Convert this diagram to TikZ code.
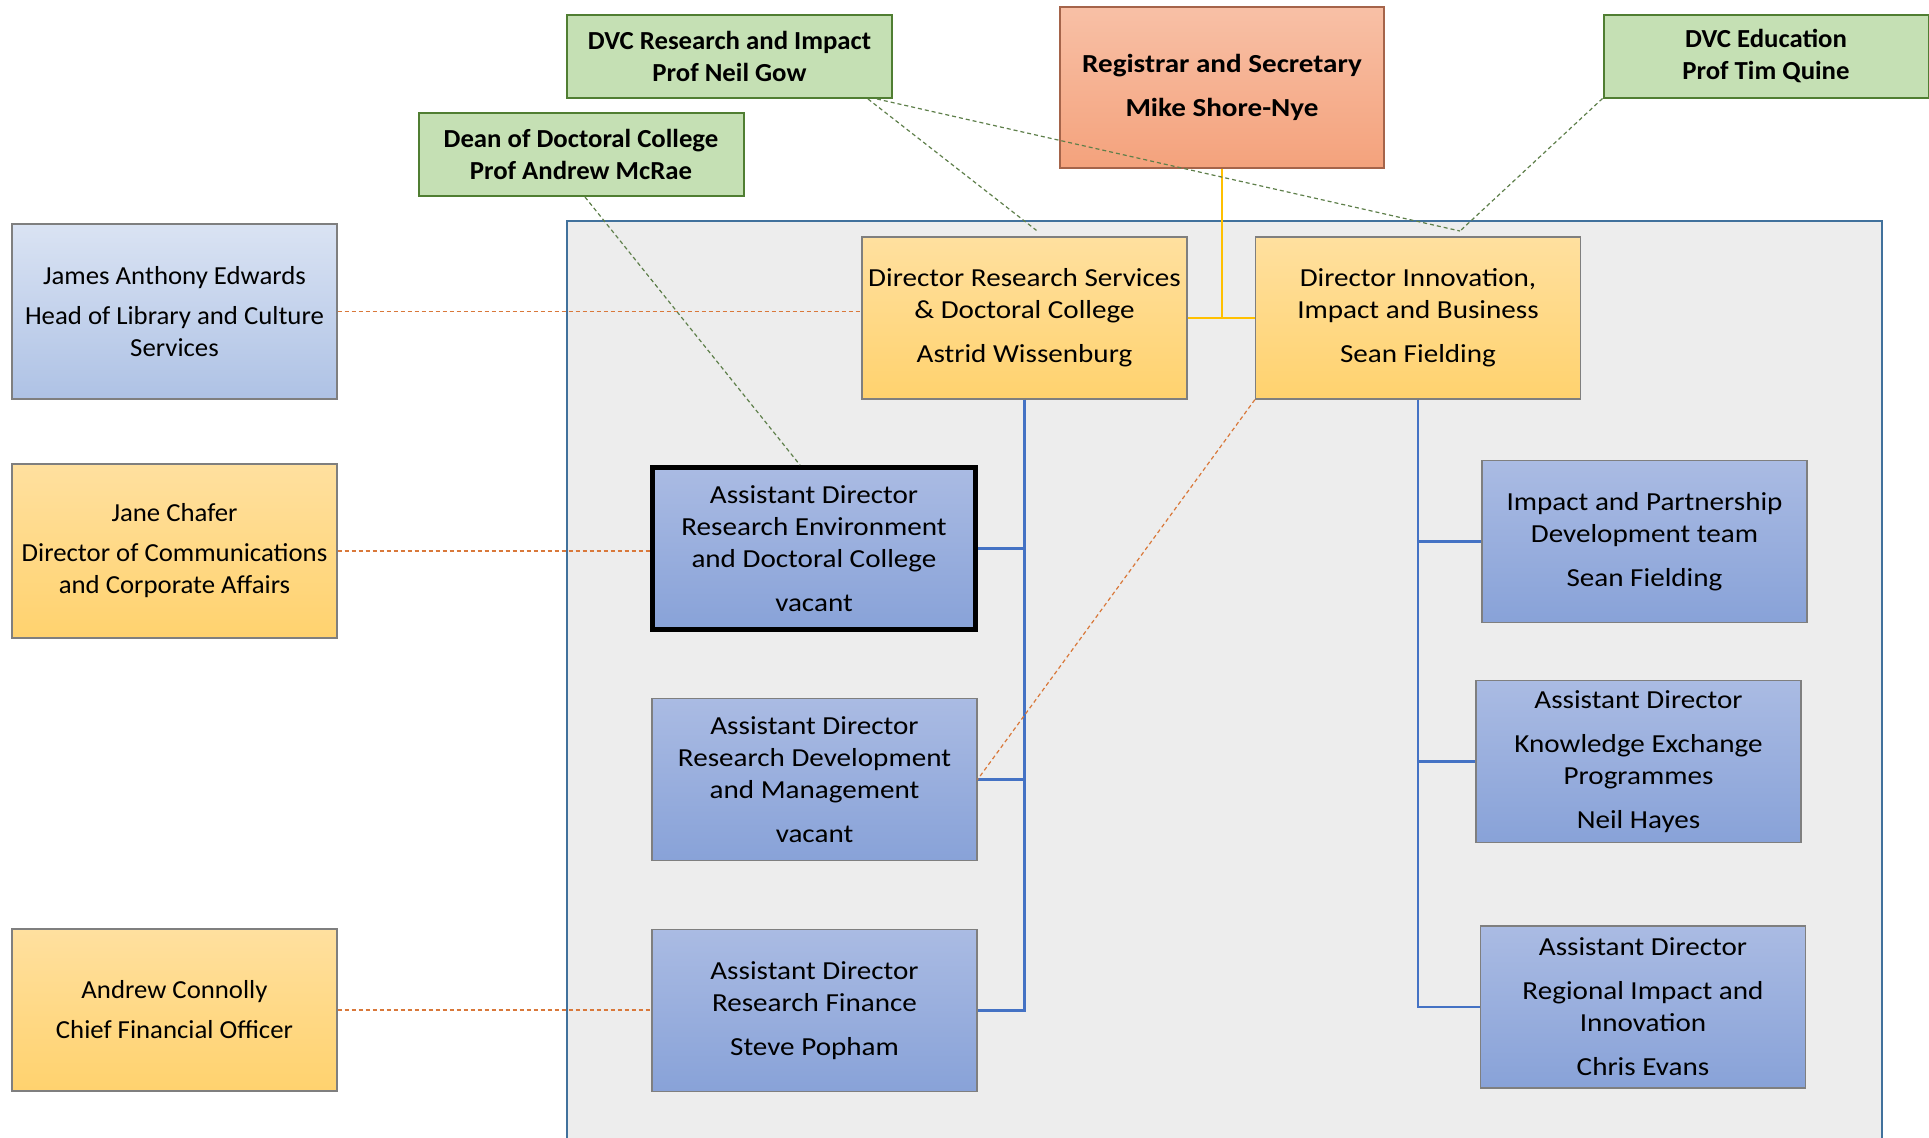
\documentclass[tikz,border=0pt]{standalone}
\usepackage{fontspec}
\setmainfont{Carlito}
\newfontfamily\widefont[FakeStretch=1.12]{Carlito}
\newfontfamily\sidefont[FakeStretch=1.03]{Carlito}
\definecolor{boxgreen}{HTML}{C5E0B4}
\definecolor{edgegreen}{HTML}{507E32}
\definecolor{regtop}{HTML}{F8C0A6}
\definecolor{regbot}{HTML}{F4A27C}
\definecolor{regedge}{HTML}{A5644A}
\definecolor{yeltop}{HTML}{FFE09F}
\definecolor{yelbot}{HTML}{FFD26E}
\definecolor{bluetop}{HTML}{AABBE3}
\definecolor{bluebot}{HTML}{88A2D8}
\definecolor{paletop}{HTML}{DAE3F3}
\definecolor{palebot}{HTML}{AEC2E5}
\definecolor{boxedge}{HTML}{7F7F7F}
\definecolor{framefill}{HTML}{EDEDED}
\definecolor{frameedge}{HTML}{41719C}
\definecolor{busblue}{HTML}{4472C4}
\definecolor{regline}{HTML}{FFC000}
\definecolor{linkorange}{HTML}{D9783A}
\definecolor{linkgreen}{HTML}{5E7F4A}
\begin{document}
\begin{tikzpicture}[x=0.5pt,y=-0.5pt,
  box/.style={rectangle,align=center,inner sep=0pt,minimum width=162.5pt,minimum height=81pt,
    font=\widefont\fontsize{13}{16}\selectfont},
  greenbox/.style={box,fill=boxgreen,draw=edgegreen,line width=1pt,minimum height=41.5pt,
    font=\sidefont\fontsize{13}{16}\selectfont\bfseries},
  regbox/.style={box,draw=regedge,line width=0.6pt,top color=regtop,bottom color=regbot,
    font=\widefont\fontsize{13}{16}\selectfont\bfseries},
  yelbox/.style={box,draw=boxedge,line width=0.6pt,top color=yeltop,bottom color=yelbot},
  bluebox/.style={box,draw=boxedge,line width=0.6pt,top color=bluetop,bottom color=bluebot},
  palebox/.style={box,draw=boxedge,line width=0.6pt,top color=paletop,bottom color=palebot},
  sidebox/.style={font=\sidefont\fontsize{13}{16}\selectfont},
  busline/.style={draw=busblue,line width=1.2pt},
  reglink/.style={draw=regline,line width=1pt},
  orlink/.style={draw=linkorange,line width=0.6pt,dash pattern=on 2pt off 1.5pt},
  grlink/.style={draw=linkgreen,line width=0.6pt,dash pattern=on 2pt off 1.5pt}]
  \useasboundingbox (0,0) rectangle (1929,1137);
  \draw[fill=framefill,draw=frameedge,line width=1pt] (567,221) rectangle (1882,1145);

  \node[greenbox] (dvcr) at (729.5,56.5) {DVC Research and Impact\\Prof Neil Gow};
  \node[greenbox] (dean) at (581,154.5) {Dean of Doctoral College\\Prof Andrew McRae};
  \node[greenbox] (dvce) at (1766,56) {DVC Education\\Prof Tim Quine};
  \node[regbox,minimum width=162pt,minimum height=80.5pt] (reg) at (1222,87.5)
    {Registrar and Secretary\\[6pt]Mike Shore-Nye};
%%%
  \node[yelbox] (drs) at (1024.5,318) {Director Research Services\\\& Doctoral College\\[6pt]Astrid Wissenburg};
  \node[yelbox] (dii) at (1418,318) {Director Innovation,\\Impact and Business\\[6pt]Sean Fielding};
%%%
  \node[palebox,sidebox,minimum height=87.5pt] (jae) at (174.5,311.5)
    {James Anthony Edwards\\[4pt]Head of Library and Culture\\Services};
  \node[yelbox,sidebox,minimum height=87pt] (jc) at (174.5,551)
    {Jane Chafer\\[4pt]Director of Communications\\and Corporate Affairs};
  \node[yelbox,sidebox] (ac) at (174.5,1010) {Andrew Connolly\\[4pt]Chief Financial Officer};
%%%
  \node[bluebox,draw=black,line width=2.5pt,minimum width=161.5pt] (adre) at (814,548.5)
    {Assistant Director\\Research Environment\\and Doctoral College\\[6pt]vacant};
  \node[bluebox] (rdm) at (814.5,779.5)
    {Assistant Director\\Research Development\\and Management\\[6pt]vacant};
  \node[bluebox] (rf) at (814.5,1010.5) {Assistant Director\\Research Finance\\[6pt]Steve Popham};
%%%
  \node[bluebox] (ipd) at (1644.5,541.5) {Impact and Partnership\\Development team\\[6pt]Sean Fielding};
  \node[bluebox] (kep) at (1638.5,761.5)
    {Assistant Director\\[6pt]Knowledge Exchange\\Programmes\\[6pt]Neil Hayes};
  \node[bluebox] (ria) at (1643,1007)
    {Assistant Director\\[6pt]Regional Impact and\\Innovation\\[6pt]Chris Evans};
%%%
  \draw[reglink] (reg.south) -- (reg.south |- drs.east);
  \draw[reglink] (drs.east) -- (dii.west);
  \draw[busline] (drs.south) |- (adre.east);
  \draw[busline] (drs.south) |- (rdm.east);
  \draw[busline] (drs.south) |- (rf.east);
  \draw[busline] (dii.south) |- (ipd.west);
  \draw[busline] (dii.south) |- (kep.west);
  \draw[busline] (dii.south) |- (ria.west);
%%%
  \coordinate (meet) at (1460,231);
  \draw[grlink] ([xshift=2pt]dean.south) -- ([xshift=-7pt]adre.north);
  \draw[grlink] ([xshift=-12.5pt]dvcr.south east) -- ([xshift=6pt,yshift=3pt]drs.north);
  \draw[grlink] ([xshift=-8pt]dvcr.south east) -- (meet);
  \draw[grlink] (dvce.south west) -- (meet);
%%%
  \draw[orlink] (jae.east) -- (jae.east -| drs.west);
  \draw[orlink] (jc.east) -- (jc.east -| adre.west);
  \draw[orlink] (ac.east) -- (ac.east -| rf.west);
  \draw[orlink] (dii.south west) -- (rdm.east);
\end{tikzpicture}
\end{document}
